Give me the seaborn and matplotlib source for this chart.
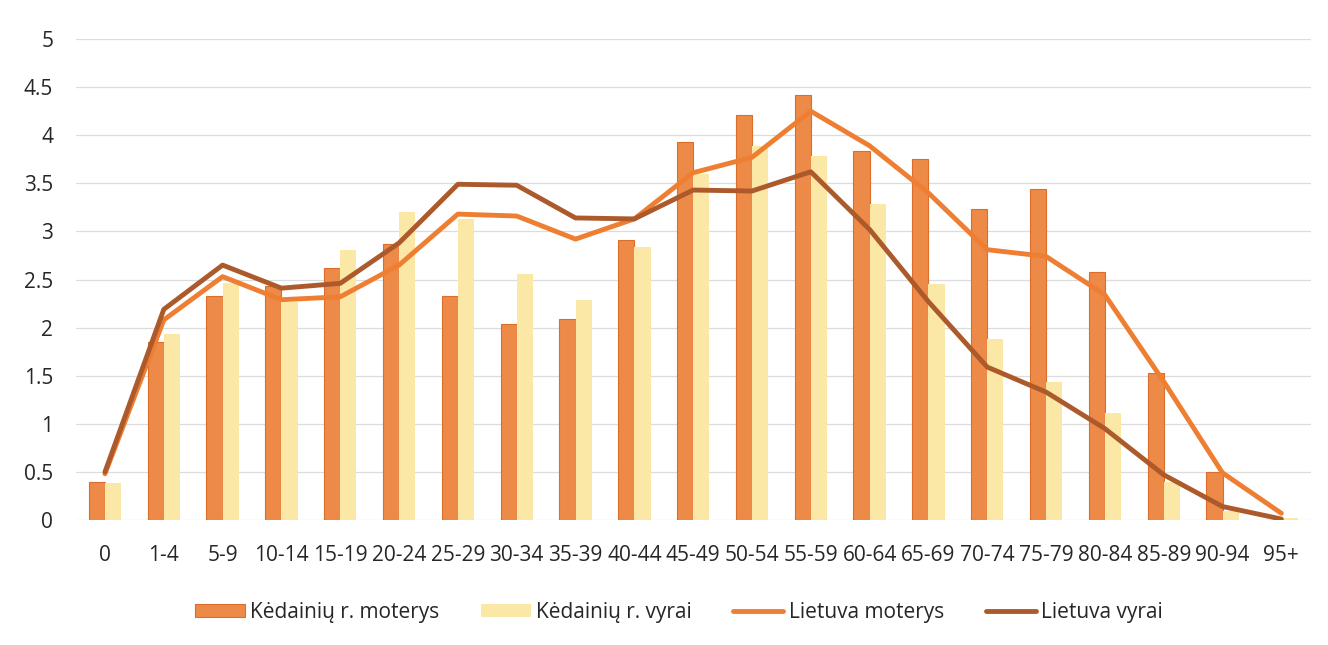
import numpy as np
import pandas as pd
import matplotlib
matplotlib.use("Agg")
import matplotlib.pyplot as plt
from matplotlib.patches import Patch
from matplotlib.lines import Line2D
import seaborn as sns

categories = ["0", "1-4", "5-9", "10-14", "15-19", "20-24", "25-29", "30-34", "35-39",
              "40-44", "45-49", "50-54", "55-59", "60-64", "65-69", "70-74", "75-79",
              "80-84", "85-89", "90-94", "95+"]
kedainiai_moterys = [0.39, 1.85, 2.33, 2.43, 2.62, 2.87, 2.33, 2.04, 2.09, 2.91, 3.93,
                     4.21, 4.42, 3.84, 3.75, 3.23, 3.44, 2.58, 1.53, 0.50, 0.0]
kedainiai_vyrai = [0.38, 1.93, 2.46, 2.27, 2.81, 3.20, 3.13, 2.56, 2.29, 2.84, 3.60,
                   3.89, 3.78, 3.28, 2.45, 1.88, 1.43, 1.11, 0.40, 0.09, 0.02]
lietuva_moterys = [0.48, 2.08, 2.53, 2.29, 2.32, 2.65, 3.18, 3.16, 2.92, 3.13, 3.61,
                   3.77, 4.25, 3.89, 3.40, 2.81, 2.74, 2.34, 1.44, 0.49, 0.07]
lietuva_vyrai = [0.50, 2.19, 2.65, 2.41, 2.46, 2.88, 3.49, 3.48, 3.14, 3.13, 3.43,
                 3.42, 3.62, 3.02, 2.27, 1.59, 1.33, 0.95, 0.47, 0.14, 0.01]
series_names = ["Kėdainių r. moterys", "Kėdainių r. vyrai", "Lietuva moterys", "Lietuva vyrai"]
y_ticks = [0, 0.5, 1, 1.5, 2, 2.5, 3, 3.5, 4, 4.5, 5]

c_bar_f = "#EE8A47"
c_bar_f_edge = "#DB6E2C"
c_bar_m = "#FCE8A6"
c_line_f = "#EE7E32"
c_line_m = "#AC5A2B"
c_text = "#262626"

sns.set_theme(style="white")
plt.rcParams["font.family"] = ["Open Sans", "DejaVu Sans"]

fig = plt.figure(figsize=(13.28, 6.45), dpi=100)
ax = fig.add_axes([0.0569, 0.1938, 0.9301, 0.7457])

df = pd.DataFrame({
    "cat": categories * 2,
    "series": [series_names[0]] * len(categories) + [series_names[1]] * len(categories),
    "val": kedainiai_moterys + kedainiai_vyrai,
})

for y in y_ticks:
    ax.axhline(y, color="#DCDCDC", lw=0.9, zorder=0)

sns.barplot(data=df, x="cat", y="val", hue="series", order=categories,
            hue_order=series_names[:2], palette=[c_bar_f, c_bar_m],
            width=0.55, gap=0, dodge=True, ax=ax, legend=False, zorder=2,
            saturation=1, errorbar=None)
for bar in ax.patches:
    fc = bar.get_facecolor()
    if np.allclose(fc[:3], matplotlib.colors.to_rgb(c_bar_f), atol=0.02):
        bar.set_edgecolor(c_bar_f_edge)
        bar.set_linewidth(0.8)
    else:
        bar.set_edgecolor("none")

idx = np.arange(len(categories))
sns.lineplot(x=idx, y=lietuva_moterys, color=c_line_f, lw=3.5, ax=ax,
             zorder=3, solid_capstyle="round", solid_joinstyle="round")
sns.lineplot(x=idx, y=lietuva_vyrai, color=c_line_m, lw=3.5, ax=ax,
             zorder=4, solid_capstyle="round", solid_joinstyle="round")

ax.set_xlim(-0.5, len(categories) - 0.5)
ax.set_ylim(0, 5)
ax.set_yticks(y_ticks)
ax.set_yticklabels([f"{v:g}" for v in y_ticks])
ax.set_xticks(idx)
ax.set_xticklabels(categories)
ax.set_xlabel("")
ax.set_ylabel("")
for s in ax.spines.values():
    s.set_visible(False)
ax.tick_params(axis="x", length=0, pad=18, labelsize=15, colors=c_text)
ax.tick_params(axis="y", length=0, pad=16, labelsize=15, colors=c_text)
ax.grid(False)

handles = [
    Patch(facecolor=c_bar_f, edgecolor=c_bar_f_edge, lw=0.8),
    Patch(facecolor=c_bar_m, edgecolor="none"),
    Line2D([0], [0], color=c_line_f, lw=3.5, solid_capstyle="round"),
    Line2D([0], [0], color=c_line_m, lw=3.5, solid_capstyle="round"),
]
fig.legend(handles, series_names, loc="center", bbox_to_anchor=(0.511, 0.051),
           ncol=4, frameon=False, fontsize=15, handlelength=2.4, handleheight=0.55,
           handletextpad=0.25, columnspacing=2.0, labelcolor=c_text)

fig.savefig("out.png", dpi=100, facecolor="white")
